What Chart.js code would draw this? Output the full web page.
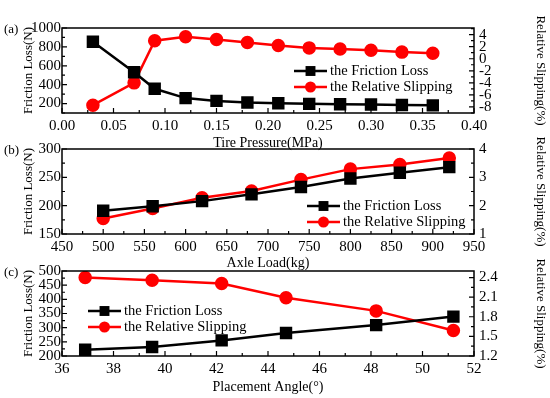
<!DOCTYPE html>
<html>
<head>
<meta charset="utf-8">
<script src="https://cdn.jsdelivr.net/npm/chart.js@4"></script>
<style>
  html, body { margin: 0; padding: 0; background: #fff; }
  body { width: 550px; height: 398px; position: relative; overflow: hidden; }
  canvas { position: absolute; left: 0; }
</style>
</head>
<body>
<canvas id="panelA" width="550" height="152" style="top:0px"></canvas>
<canvas id="panelB" width="550" height="147" style="top:125px"></canvas>
<canvas id="panelC" width="550" height="146" style="top:250px"></canvas>
<script>
// (a) tire pressure
const pressure = [0.03, 0.07, 0.09, 0.12, 0.15, 0.18, 0.21, 0.24, 0.27, 0.30, 0.33, 0.36];
const lossA = [855, 532, 356, 258, 228, 211, 204, 197, 193, 190, 185, 181];
const slipA = [-7.7, -4.0, 3.0, 3.65, 3.2, 2.7, 2.2, 1.8, 1.6, 1.4, 1.1, 0.9];
const xTicksA = [0, 0.05, 0.10, 0.15, 0.20, 0.25, 0.30, 0.35, 0.40];
const yTicksA = [200, 400, 600, 800, 1000];
const y1TicksA = [-8, -6, -4, -2, 0, 2, 4];

// (b) axle load
const load = [500, 560, 620, 680, 740, 800, 860, 920];
const lossB = [191, 199, 208, 220, 233, 248, 258, 268];
const slipB = [1.55, 1.9, 2.28, 2.52, 2.92, 3.29, 3.45, 3.68];
const xTicksB = [450, 500, 550, 600, 650, 700, 750, 800, 850, 900, 950];
const yTicksB = [150, 200, 250, 300];
const y1TicksB = [1, 2, 3, 4];

// (c) placement angle
const angle = [36.9, 39.5, 42.2, 44.7, 48.2, 51.2];
const lossC = [222, 232, 255, 281, 309, 339];
const slipC = [2.4, 2.36, 2.31, 2.09, 1.89, 1.59];
const xTicksC = [36, 38, 40, 42, 44, 46, 48, 50, 52];
const yTicksC = [200, 250, 300, 350, 400, 450, 500];
const y1TicksC = [1.2, 1.5, 1.8, 2.1, 2.4];

const lossLabel = "the Friction Loss";
const slipLabel = "the Relative Slipping";
const serif = "'Liberation Serif', 'Times New Roman', serif";

//draws box, inward ticks, panel letter and legend
const decor = {
    id: "decor",
    afterDraw(chart, args, opts) {
        const ctx = chart.ctx;
        const a = chart.chartArea;
        ctx.save();
        ctx.strokeStyle = "#000";
        ctx.lineWidth = 1.5;
        ctx.strokeRect(a.left, a.top, a.right - a.left, a.bottom - a.top);

        ctx.lineWidth = 1.2;
        const marks = (scale, step, draw) => {
            scale.ticks.forEach(t => draw(scale.getPixelForValue(t.value), 5));
            for (let v = scale.min; v <= scale.max + 1e-9; v += step) {
                const onMajor = scale.ticks.some(t => Math.abs(t.value - v) < step / 10);
                if (!onMajor) draw(scale.getPixelForValue(v), 3);
            }
        };
        ctx.beginPath();
        marks(chart.scales.x, opts.minor.x, (p, l) => { ctx.moveTo(p, a.bottom); ctx.lineTo(p, a.bottom - l); });
        marks(chart.scales.y, opts.minor.y, (p, l) => { ctx.moveTo(a.left, p); ctx.lineTo(a.left + l, p); });
        marks(chart.scales.y1, opts.minor.y1, (p, l) => { ctx.moveTo(a.right, p); ctx.lineTo(a.right - l, p); });
        ctx.stroke();

        ctx.fillStyle = "#000";
        ctx.font = "13px " + serif;
        ctx.textBaseline = "middle";
        ctx.textAlign = "left";
        ctx.fillText(opts.letter, 4, a.top + 2);

        //legend
        ctx.font = "14.5px " + serif;
        chart.data.datasets.forEach((ds, i) => {
            const y = opts.legend.y + i * 16;
            const x0 = opts.legend.x;
            const x1 = x0 + 33;
            ctx.strokeStyle = ds.borderColor;
            ctx.lineWidth = ds.borderWidth;
            ctx.beginPath();
            ctx.moveTo(x0, y);
            ctx.lineTo(x1, y);
            ctx.stroke();
            ctx.fillStyle = ds.backgroundColor;
            const mx = (x0 + x1) / 2;
            if (ds.pointStyle === "rect") {
                const s = ds.pointRadius * Math.SQRT1_2;
                ctx.fillRect(mx - s, y - s, 2 * s, 2 * s);
            } else {
                ctx.beginPath();
                ctx.arc(mx, y, ds.pointRadius, 0, Math.PI * 2);
                ctx.fill();
            }
            ctx.fillStyle = "#000";
            ctx.fillText(ds.label, x1 + 3, y);
        });
        ctx.restore();
    }
};

function axis(position, min, max, tickList, width, title, fmt, titlePad, titleSize) {
    const s = {
        type: "linear",
        position: position,
        min: min,
        max: max,
        grid: { display: false, drawTicks: false },
        border: { display: false },
        afterBuildTicks: (sc) => { sc.ticks = tickList.map(v => ({ value: v })); },
        ticks: {
            autoSkip: false,
            maxRotation: 0,
            color: "#000",
            font: { family: serif, size: 15 },
            padding: position === "bottom" ? 4 : (position === "left" ? 1 : 5),
            callback: (v) => fmt(v)
        },
        title: {
            display: true,
            text: title,
            color: "#000",
            font: { family: serif, size: titleSize },
            padding: titlePad
        }
    };
    if (position === "bottom") s.afterFit = (sc) => { sc.height = width; };
    else s.afterFit = (sc) => { sc.width = width; };
    return s;
}

function makePanel(id, cfg) {
    return new Chart(document.getElementById(id).getContext("2d"), {
        type: "line",
        data: {
            datasets: [{
                label: lossLabel,
                data: cfg.xs.map((x, i) => ({ x: x, y: cfg.loss[i] })),
                yAxisID: "y",
                borderColor: "#000",
                backgroundColor: "#000",
                borderWidth: 2.5,
                pointStyle: "rect",
                pointRadius: 7,
                tension: 0
            }, {
                label: slipLabel,
                data: cfg.xs.map((x, i) => ({ x: x, y: cfg.slip[i] })),
                yAxisID: "y1",
                borderColor: "#ff0000",
                backgroundColor: "#ff0000",
                borderWidth: 2.5,
                pointStyle: "circle",
                pointRadius: 5.5,
                tension: 0
            }]
        },
        options: {
            responsive: false,
            animation: false,
            layout: { padding: { top: cfg.top, left: 0, right: 0, bottom: 0 } },
            scales: {
                x: axis("bottom", cfg.xMin, cfg.xMax, cfg.xTicks, cfg.xH, cfg.xTitle, cfg.xFmt, { top: 0, bottom: 0 }, 14),
                y: axis("left", cfg.yMin, cfg.yMax, cfg.yTicks, 62, "Friction Loss(N)", v => String(v), { top: 21, bottom: 0 }, 13),
                y1: axis("right", cfg.y1Min, cfg.y1Max, cfg.y1Ticks, 76, "Relative Slipping(%)", cfg.y1Fmt, { top: 2, bottom: 0 }, 13)
            },
            plugins: {
                legend: { display: false },
                tooltip: { enabled: false },
                decor: { letter: cfg.letter, legend: cfg.legend, minor: cfg.minor }
            }
        },
        plugins: [decor]
    });
}

makePanel("panelA", {
    letter: "(a)", top: 28, xH: 39,
    xs: pressure, loss: lossA, slip: slipA,
    xMin: 0, xMax: 0.4, xTicks: xTicksA, xTitle: "Tire Pressure(MPa)", xFmt: v => v.toFixed(2),
    yMin: 100, yMax: 1000, yTicks: yTicksA,
    y1Min: -9, y1Max: 5.1, y1Ticks: y1TicksA, y1Fmt: v => String(v),
    minor: { x: 0.025, y: 100, y1: 1 },
    legend: { x: 294, y: 71 }
});

makePanel("panelB", {
    letter: "(b)", top: 24, xH: 38,
    xs: load, loss: lossB, slip: slipB,
    xMin: 450, xMax: 950, xTicks: xTicksB, xTitle: "Axle Load(kg)", xFmt: v => String(v),
    yMin: 150, yMax: 300, yTicks: yTicksB,
    y1Min: 1, y1Max: 4, y1Ticks: y1TicksB, y1Fmt: v => String(v),
    minor: { x: 25, y: 25, y1: 0.5 },
    legend: { x: 307, y: 81 }
});

makePanel("panelC", {
    letter: "(c)", top: 21, xH: 40,
    xs: angle, loss: lossC, slip: slipC,
    xMin: 36, xMax: 52, xTicks: xTicksC, xTitle: "Placement Angle(°)", xFmt: v => String(v),
    yMin: 200, yMax: 500, yTicks: yTicksC,
    y1Min: 1.2, y1Max: 2.5, y1Ticks: y1TicksC, y1Fmt: v => v.toFixed(1),
    minor: { x: 1, y: 25, y1: 0.15 },
    legend: { x: 88, y: 61 }
});
</script>
</body>
</html>
